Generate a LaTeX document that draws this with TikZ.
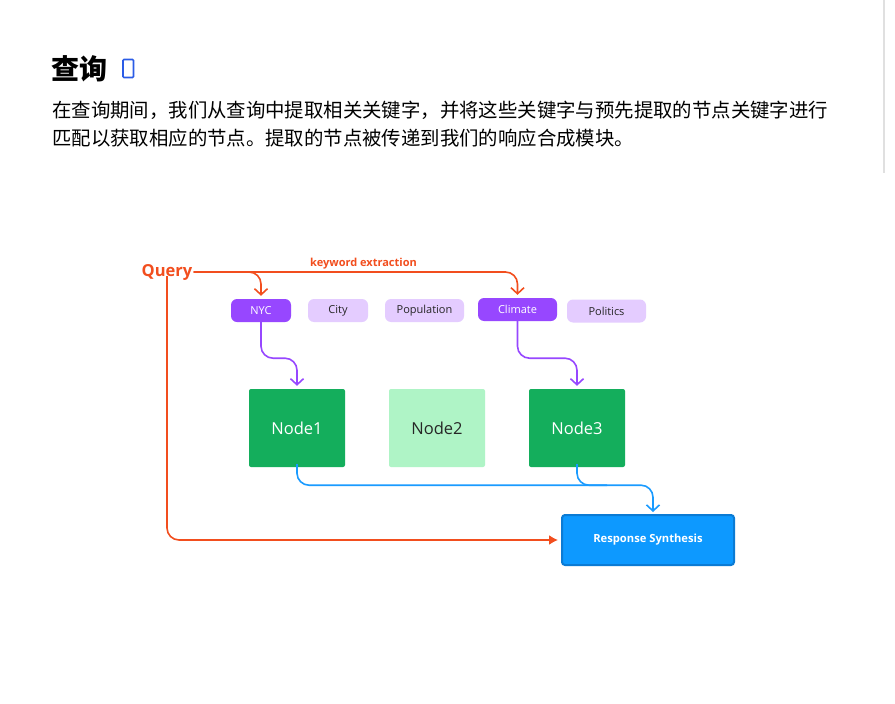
\documentclass[tikz,border=0pt]{standalone}
\usepackage{fontspec}
\setmainfont{Open Sans}
\newfontfamily\cjk{Noto Sans CJK SC}
\usetikzlibrary{arrows.meta,positioning}
\definecolor{qred}{HTML}{F24E1E}
\definecolor{kwpurple}{HTML}{9747FF}
\definecolor{kwlight}{HTML}{E4CCFF}
\definecolor{ndgreen}{HTML}{14AE5C}
\definecolor{ndlight}{HTML}{AFF4C6}
\definecolor{rsblue}{HTML}{0D99FF}
\definecolor{rsborder}{HTML}{0B7BD4}
\definecolor{conblue}{HTML}{1A9BFF}
\definecolor{tofublue}{HTML}{2B5CE6}
\begin{document}
\begin{tikzpicture}[x=1pt,y=-1pt,
  kwon/.style={rounded corners=6pt,fill=kwpurple,text=white,minimum width=60pt,minimum height=23pt,inner sep=0pt,font=\fontsize{11}{12}\selectfont},
  kwoff/.style={rounded corners=6pt,fill=kwlight,text=black!85,minimum width=79pt,minimum height=23pt,inner sep=0pt,font=\fontsize{11}{12}\selectfont},
  gnode/.style={rounded corners=2pt,fill=ndgreen,text=white,minimum width=96pt,minimum height=78pt,inner sep=0pt,font=\fontsize{16.5}{20}\selectfont},
  gnodelight/.style={gnode,fill=ndlight,text=black!85},
  redarrow/.style={draw=qred,line width=1.6pt,rounded corners=12pt,-{Straight Barb[length=6pt,width=13pt,line width=1.6pt]}},
  purplearrow/.style={draw=kwpurple,line width=1.6pt,rounded corners=12pt,-{Straight Barb[length=6pt,width=13pt,line width=1.6pt]}},
  bluearrow/.style={draw=conblue,line width=1.6pt,rounded corners=12pt,-{Straight Barb[length=6pt,width=13pt,line width=1.6pt]}},
  bodytext/.style={anchor=west,inner sep=0pt,font=\cjk\fontsize{19.4}{24}\selectfont}
]
\useasboundingbox[fill=white] (0,0) rectangle (895,704);
% right grey rule
\draw[black!12,line width=1.5pt] (884,0) -- (884,173);
% title
\node[anchor=west,inner sep=0pt,font=\cjk\bfseries\fontsize{28}{30}\selectfont] (title) at (51,69) {查询};
\draw[draw=tofublue,line width=1.6pt,rounded corners=1pt] (123,59.5) rectangle (133.5,77.5);
\node[bodytext] (line1) at (52,110) {在查询期间，我们从查询中提取相关关键字，并将这些关键字与预先提取的节点关键字进行};
\node[bodytext] (line2) at (52,138) {匹配以获取相应的节点。提取的节点被传递到我们的响应合成模块。};

% diagram
\node[text=qred,font=\bfseries\fontsize{16.5}{18}\selectfont,inner sep=1pt] (query) at (167,272) {Query};
\node[kwon] (nyc) at (261,310.5) {NYC};
\node[kwoff,minimum width=60pt] (city) at (338,310.5) {City};
\node[kwoff] (pop) at (424.5,310.5) {Population};
\node[kwon,minimum width=79pt] (climate) at (517.5,309.5) {Climate};
\node[kwoff] (politics) at (606.5,311) {Politics};

\node[gnode] (n1) at (297,428) {Node1};
\node[gnodelight] (n2) at (437,428) {Node2};
\node[gnode] (n3) at (577,428) {Node3};

\node[rounded corners=3pt,fill=rsblue,draw=rsborder,line width=2pt,text=white,minimum width=172pt,minimum height=50pt,inner sep=0pt,font=\bfseries\fontsize{11.2}{12}\selectfont] (rs) at (648,540) {Response Synthesis};

% red connectors
\draw[redarrow,shorten >=3pt] (query.east) -| (nyc.north);
\draw[redarrow,shorten >=3pt] (query.east) -| (climate.north);
\node[text=qred,font=\bfseries\fontsize{11}{12}\selectfont,inner sep=0pt] (kwlabel) at (363.5,264) {keyword extraction};
\draw[draw=qred,line width=1.6pt,rounded corners=12pt,-{Latex[length=9pt,width=10pt]},shorten >=3pt] ([yshift=5pt]query.south) |- (rs.west);

% purple connectors
\draw[purplearrow,shorten >=3pt] (nyc.south) -- ++(0,36) -| (n1.north);
\draw[purplearrow,shorten >=3pt] (climate.south) -- ++(0,37) -| (n3.north);

% blue connectors
\draw[bluearrow,shorten >=2pt] ([yshift=3pt]n1.south) -- ++(0,21) -| ([xshift=5pt]rs.north);
\draw[draw=conblue,line width=1.6pt,rounded corners=12pt] ([yshift=3pt]n3.south) -- ++(0,21) -- ++(30,0);
\end{tikzpicture}
\end{document}
